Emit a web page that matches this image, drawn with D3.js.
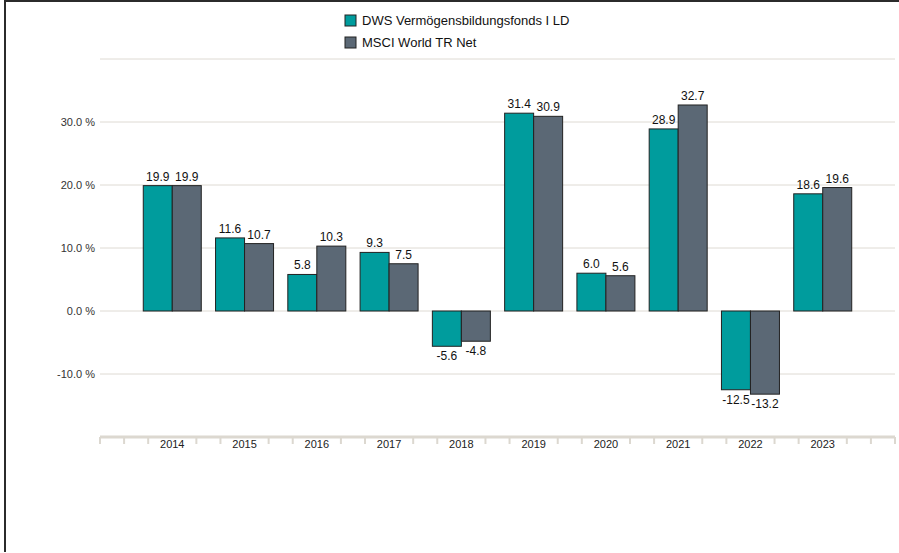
<!DOCTYPE html>
<html>
<head>
<meta charset="utf-8">
<script src="https://cdn.jsdelivr.net/npm/d3@7"></script>
<style>
  html, body { margin: 0; padding: 0; background: #fff; }
  svg { display: block; font-family: "Liberation Sans", Arial, sans-serif; }
</style>
</head>
<body>
<svg id="chart" width="899" height="553"></svg>
<script>
const years = ["2014","2015","2016","2017","2018","2019","2020","2021","2022","2023"];
const fundValues = [19.9, 11.6, 5.8, 9.3, -5.6, 31.4, 6.0, 28.9, -12.5, 18.6];
const indexValues = [19.9, 10.7, 10.3, 7.5, -4.8, 30.9, 5.6, 32.7, -13.2, 19.6];
const seriesNames = ["DWS Vermögensbildungsfonds I LD", "MSCI World TR Net"];
const seriesColors = ["#009c9d", "#5b6875"];
const yTicks = [-10, 0, 10, 20, 30];
const gridValues = [-10, 0, 10, 20, 30, 40];

(function () {
const svg = d3.select("#chart");
const W = 899, H = 553;
const pLeft = 100, pRight = 895, pTop = 59, pBottom = 437;
const fmt = v => v.toFixed(1);

// frame lines (left and top)
svg.append("line").attr("x1", 5).attr("x2", 5).attr("y1", 0).attr("y2", 552)
  .attr("stroke", "#2b2b2b").attr("stroke-width", 2);
svg.append("line").attr("x1", 4).attr("x2", W).attr("y1", 1).attr("y2", 1)
  .attr("stroke", "#2b2b2b").attr("stroke-width", 2);

const y = d3.scaleLinear().domain([-20, 40]).range([pBottom, pTop]);
const x = d3.scaleLinear().domain([0, years.length + 1]).range([pLeft, pRight]);
const barW = 29;

// gridlines
svg.append("g").selectAll("line").data(gridValues).join("line")
  .attr("x1", pLeft).attr("x2", pRight)
  .attr("y1", d => y(d)).attr("y2", d => y(d))
  .attr("stroke", "#dedad3").attr("stroke-width", 1);

// y tick labels
svg.append("g").selectAll("text").data(yTicks).join("text")
  .attr("x", 95).attr("y", d => y(d) + 4)
  .attr("text-anchor", "end")
  .attr("font-size", 11).attr("fill", "#333")
  .text(d => fmt(d) + " %");

// x axis line
svg.append("line").attr("x1", pLeft).attr("x2", pRight)
  .attr("y1", pBottom).attr("y2", pBottom)
  .attr("stroke", "#dcd8d0").attr("stroke-width", 3);
const minorTicks = d3.range(0, (years.length + 1) * 3 + 1).map(i => i / 3)
  .filter(v => Math.abs(v - Math.round(v)) > 1e-6 || v === 0 || v === years.length + 1);
svg.append("g").selectAll("line").data(minorTicks).join("line")
  .attr("x1", d => x(d)).attr("x2", d => x(d))
  .attr("y1", pBottom).attr("y2", pBottom + 7)
  .attr("stroke", "#dcd8d0").attr("stroke-width", 2);

// x labels
svg.append("g").selectAll("text").data(years).join("text")
  .attr("x", (d, i) => x(i + 1)).attr("y", pBottom + 11)
  .attr("text-anchor", "middle")
  .attr("font-size", 11).attr("fill", "#222")
  .text(d => d);

// bars
const series = [fundValues, indexValues];
series.forEach((vals, s) => {
  const g = svg.append("g");
  g.selectAll("rect").data(vals).join("rect")
    .attr("x", (d, i) => x(i + 1) - barW + s * barW)
    .attr("y", d => y(Math.max(0, d)))
    .attr("width", barW)
    .attr("height", d => Math.abs(y(d) - y(0)))
    .attr("fill", seriesColors[s])
    .attr("stroke", "#222")
    .attr("stroke-width", 1);
  g.selectAll("text").data(vals).join("text")
    .attr("x", (d, i) => x(i + 1) - barW / 2 + s * barW)
    .attr("y", d => d >= 0 ? y(d) - 5 : y(d) + 14)
    .attr("text-anchor", "middle")
    .attr("font-size", 12).attr("fill", "#111")
    .text(d => fmt(d));
});

// legend
const lg = svg.append("g").attr("transform", "translate(345,15)");
seriesNames.forEach((name, i) => {
  lg.append("rect").attr("x", 0).attr("y", i * 22).attr("width", 11).attr("height", 11)
    .attr("fill", seriesColors[i]).attr("stroke", "#222").attr("stroke-width", 1);
  lg.append("text").attr("x", 17).attr("y", i * 22 + 10)
    .attr("font-size", 13).attr("fill", "#111").text(name);
});
})();
</script>
</body>
</html>
